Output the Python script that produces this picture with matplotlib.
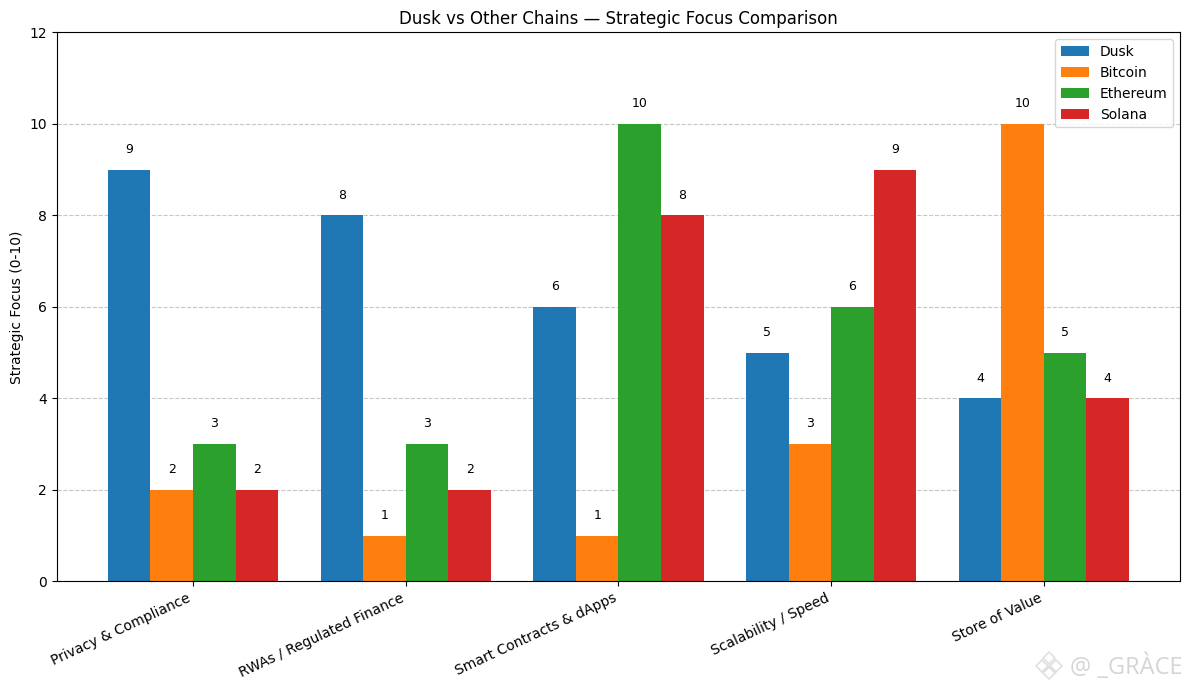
import numpy as np
import matplotlib
matplotlib.use("Agg")
import matplotlib.pyplot as plt
from matplotlib.lines import Line2D

categories = [
    "Privacy & Compliance",
    "RWAs / Regulated Finance",
    "Smart Contracts & dApps",
    "Scalability / Speed",
    "Store of Value",
]
dusk = [9, 8, 6, 5, 4]
bitcoin = [2, 1, 1, 3, 10]
ethereum = [3, 3, 10, 6, 5]
solana = [2, 2, 8, 9, 4]

series = [("Dusk", dusk), ("Bitcoin", bitcoin), ("Ethereum", ethereum), ("Solana", solana)]

fig, ax = plt.subplots(figsize=(11.89, 6.9), dpi=100)

x = np.arange(len(categories))
width = 0.2

for i, (name, vals) in enumerate(series):
    bars = ax.bar(x + (i - 1.5) * width, vals, width, label=name, zorder=2)
    for b, v in zip(bars, vals):
        ax.text(b.get_x() + b.get_width() / 2, v + 0.44, str(v), ha="center", va="center", fontsize=9)

ax.set_xticks(x)
ax.set_xticklabels(categories, rotation=25, ha="right")
ax.set_ylim(0, 12)
ax.set_ylabel("Strategic Focus (0-10)")
ax.set_title("Dusk vs Other Chains — Strategic Focus Comparison")
ax.grid(axis="y", linestyle="--", alpha=0.7)
ax.legend(loc="upper right")

fig.subplots_adjust(left=0.04785, right=0.9925, top=0.953, bottom=0.1575)

# watermark, bottom right corner: logo diamonds plus handle
for dx, dy, s in [(0, 0.0105, 6), (-0.006, 0, 6), (0.006, 0, 6), (0, -0.0105, 6)]:
    fig.add_artist(Line2D([0.8825 + dx], [0.0355 + dy], marker="D", markersize=s, mfc="none",
                          mec="#d4d4d4", mew=1.2, alpha=0.7, transform=fig.transFigure))
fig.text(0.9945, 0.034, "@ _GRÀCE", ha="right", va="center", fontsize=17,
         family="Open Sans", color="#b4b4b4", alpha=0.55)

plt.savefig("out.png", dpi=100)
